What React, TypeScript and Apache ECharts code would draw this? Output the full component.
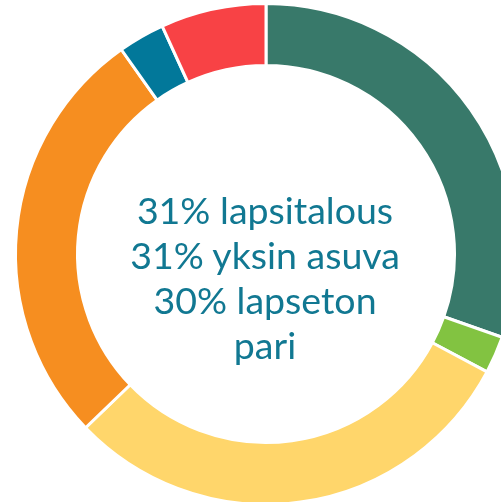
import React, { useEffect, useRef } from "react";
import * as echarts from "echarts";

const categories = ["lapsitalous", "muu 1", "lapseton pari", "yksin asuva", "muu 2", "muu 3"];
const values = [30.4, 2.4, 30.0, 27.4, 3.0, 6.8];
const colors = ["#38796A", "#82C341", "#FFD66B", "#F68E20", "#02789A", "#F84245"];
const centerLines = ["31% lapsitalous", "31% yksin asuva", "30% lapseton", "pari"];

export default function App() {
  const ref = useRef<HTMLDivElement>(null);
  useEffect(() => {
    if (!ref.current) return;
    const chart = echarts.init(ref.current, null, { renderer: "svg" });
    chart.setOption({
      animation: false,
      series: [
        {
          type: "pie",
          center: [266, 254],
          radius: [188.5, 250.5],
          startAngle: 90,
          clockwise: true,
          label: { show: false },
          labelLine: { show: false },
          emphasis: { disabled: true },
          itemStyle: { borderColor: "#ffffff", borderWidth: 3 },
          data: categories.map((name, i) => ({
            name,
            value: values[i],
            itemStyle: { color: colors[i] },
          })),
        },
      ],
      graphic: [
        {
          type: "text",
          x: 265,
          y: 277,
          style: {
            text: centerLines.join("\n"),
            textAlign: "center",
            textVerticalAlign: "middle",
            fontFamily: "Lato",
            fontSize: 37.5,
            lineHeight: 45,
            fill: "#117892",
          },
        },
      ],
    });
    return () => chart.dispose();
  }, []);
  return (
    <div
      ref={ref}
      style={{ position: "fixed", left: 0, top: 0, width: 501, height: 502 }}
    />
  );
}
